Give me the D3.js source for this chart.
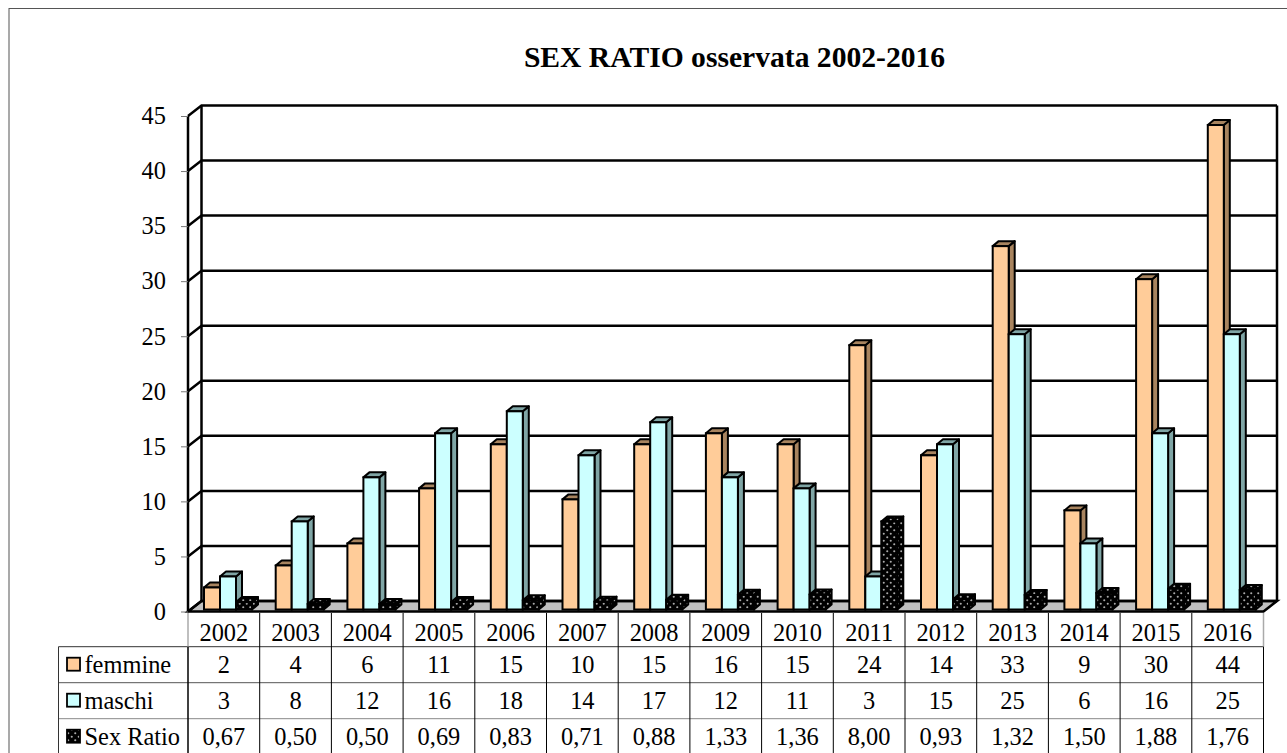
<!DOCTYPE html>
<html><head><meta charset="utf-8">
<script src="https://cdn.jsdelivr.net/npm/d3@7"></script>
<style>html,body{margin:0;padding:0;background:#fff;overflow:hidden}svg{display:block}text{font-family:"Liberation Serif",serif;fill:#000}</style>
</head><body><svg id="c" width="1287" height="753"></svg>
<script>
const years=["2002","2003","2004","2005","2006","2007","2008","2009","2010","2011","2012","2013","2014","2015","2016"];
const femmine=[2,4,6,11,15,10,15,16,15,24,14,33,9,30,44];
const maschi=[3,8,12,16,18,14,17,12,11,3,15,25,6,16,25];
const sexRatio=[0.67,0.50,0.50,0.69,0.83,0.71,0.88,1.33,1.36,8.00,0.93,1.32,1.50,1.88,1.76];
const sexRatioLabels=["0,67","0,50","0,50","0,69","0,83","0,71","0,88","1,33","1,36","8,00","0,93","1,32","1,50","1,88","1,76"];
const seriesNames=["femmine","maschi","Sex Ratio"];
const titleText="SEX RATIO osservata 2002-2016";
const yTicks=[0,5,10,15,20,25,30,35,40,45];

const svg=d3.select("#c");
const x=d3.scaleBand().domain(years).range([188,1263.5]);
const y=d3.scaleLinear().domain([0,45]).range([611.5,116]);
const series=d3.scaleBand().domain(seriesNames).range([16,64]);
const depth={dx:13.5,dy:10.5};
const barDepth={dx:6,dy:5};
const colors={femmine:["#FFCC99","#A8845F"],maschi:["#CCFFFF","#7FA5A5"]};
const values={femmine,maschi,"Sex Ratio":sexRatio};
const fontSize=24.4;

const defs=svg.append("defs");
const pat=defs.append("pattern").attr("id","dots").attr("width",7).attr("height",7).attr("patternUnits","userSpaceOnUse");
pat.append("rect").attr("width",7).attr("height",7).attr("fill","#000");
pat.append("circle").attr("cx",1.75).attr("cy",1.75).attr("r",1.05).attr("fill","#aaa");
pat.append("circle").attr("cx",5.25).attr("cy",5.25).attr("r",1.05).attr("fill","#aaa");

svg.append("rect").attr("x",9).attr("y",8.5).attr("width",1300).attr("height",800).attr("fill","#fff").attr("stroke","#555").attr("stroke-width",1);

svg.append("text").attr("x",734.5).attr("y",67).attr("text-anchor","middle").attr("font-size",29.6).attr("font-weight","bold").text(titleText);

const x0=x.range()[0],x1=x.range()[1];
// floor
svg.append("path").attr("d",d3.line()([[x0,y(0)],[x0+depth.dx,y(0)-depth.dy],[x1+depth.dx,y(0)-depth.dy],[x1,y(0)]])+"Z").attr("fill","#C0C0C0").attr("stroke","#000").attr("stroke-width",2.5);

// gridlines, back wall and side wall
const wall=svg.append("g").attr("fill","none").attr("stroke","#000").attr("stroke-width",2.5);
yTicks.forEach(t=>{
  wall.append("path").attr("d",d3.line()([[x0,y(t)],[x0+depth.dx,y(t)-depth.dy],[x1+depth.dx,y(t)-depth.dy]]));
});
wall.append("path").attr("d",d3.line()([[x0,y(0)],[x0,y(45)]]));
wall.append("path").attr("d",d3.line()([[x0+depth.dx,y(0)-depth.dy],[x0+depth.dx,y(45)-depth.dy]]));
wall.append("path").attr("d",d3.line()([[x1+depth.dx,y(0)-depth.dy],[x1+depth.dx,y(45)-depth.dy]]));

// y axis labels and ticks
const axis=d3.axisLeft(y).tickValues(yTicks).tickSize(7).tickPadding(15);
const ax=svg.append("g").attr("transform",`translate(${x0},0)`).call(axis);
ax.select(".domain").remove();
ax.selectAll("line").attr("stroke","#777").attr("stroke-width",1);
ax.selectAll("text").attr("font-size",fontSize).attr("font-family","Liberation Serif").attr("fill","#000");

// bars
const base=y(0)-2;
const unit=y(0)-y(1);
seriesNames.forEach(name=>{
  const w=series.bandwidth();
  const g=svg.append("g");
  years.forEach((yr,i)=>{
    const v=values[name][i];
    const l=x(yr)+series(name),r=l+w,t=base-v*unit,b=base;
    const dx=barDepth.dx,dy=barDepth.dy;
    const isDots=name==="Sex Ratio";
    const front=isDots?"url(#dots)":colors[name][0];
    const side=isDots?"url(#dots)":colors[name][1];
    const sw=2;
    g.append("path").attr("d",d3.line()([[r,t],[r+dx,t-dy],[r+dx,b-dy],[r,b]])+"Z").attr("fill",side).attr("stroke","#000").attr("stroke-width",sw).attr("stroke-linejoin","round");
    g.append("path").attr("d",d3.line()([[l,t],[l+dx,t-dy],[r+dx,t-dy],[r,t]])+"Z").attr("fill",side).attr("stroke","#000").attr("stroke-width",sw).attr("stroke-linejoin","round");
    g.append("rect").attr("x",l).attr("y",t).attr("width",w).attr("height",b-t).attr("fill",front).attr("stroke","#000").attr("stroke-width",sw);
  });
});

// data table
const rowY=d3.scalePoint().domain(["year",...seriesNames,"end"]).range([610.7,754.7]);
const tbl=svg.append("g");
const gridline=(a,b,c,w)=>tbl.append("line").attr("x1",a[0]).attr("y1",a[1]).attr("x2",b[0]).attr("y2",b[1]).attr("stroke",c).attr("stroke-width",w);
const legendLeft=58.5;
gridline([legendLeft,rowY("femmine")],[x1,rowY("femmine")],"#333",1);
gridline([legendLeft,rowY("maschi")],[x1,rowY("maschi")],"#555",1);
gridline([legendLeft,rowY("Sex Ratio")],[x1,rowY("Sex Ratio")],"#888",1);
gridline([legendLeft,rowY("femmine")],[legendLeft,753],"#333",1);
gridline([x0,613],[x0,rowY("femmine")],"#aaa",1.5);
gridline([x0,rowY("femmine")],[x0,753],"#000",1.5);
years.forEach(yr=>{ if(yr!=="2002") gridline([x(yr),613],[x(yr),753],"#000",1); });
gridline([x1,613],[x1,rowY("femmine")],"#aaa",1.5);
gridline([x1,rowY("femmine")],[x1,753],"#000",1);

const cell=(tx,base,xc)=>tbl.append("text").attr("x",xc).attr("y",base).attr("text-anchor","middle").attr("font-size",fontSize).text(tx);
const textBase=(k)=>rowY(k)+26;
years.forEach((yr,i)=>{
  const c=x(yr)+x.bandwidth()/2;
  cell(yr,rowY("year")+30.3,c);
  cell(String(femmine[i]),textBase("femmine"),c);
  cell(String(maschi[i]),textBase("maschi"),c);
  cell(sexRatioLabels[i],textBase("Sex Ratio"),c);
});
seriesNames.forEach(n=>{
  const yc=rowY(n)+17.5;
  tbl.append("rect").attr("x",67).attr("y",yc-6.5).attr("width",13).attr("height",13).attr("fill",n==="Sex Ratio"?"url(#dots)":colors[n][0]).attr("stroke","#000").attr("stroke-width",1.8);
  tbl.append("text").attr("x",84.5).attr("y",textBase(n)).attr("font-size",fontSize).text(n);
});
</script></body></html>
